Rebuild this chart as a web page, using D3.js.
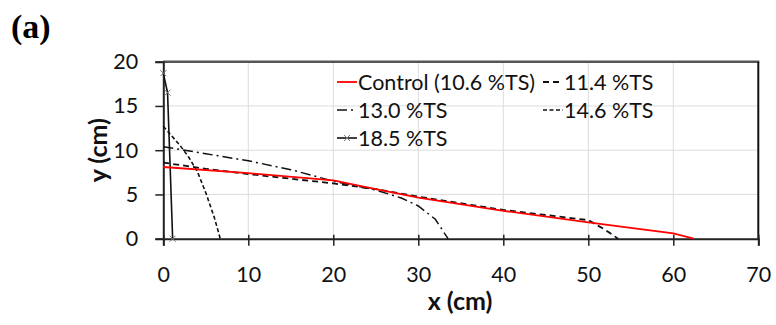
<!DOCTYPE html>
<html><head><meta charset="utf-8">
<script src="https://cdn.jsdelivr.net/npm/d3@7"></script>
<style>body{margin:0;background:#fff}svg{display:block}</style>
</head><body><svg id="c" width="776" height="325"></svg>
<script>
const xTicks = [0,10,20,30,40,50,60,70];
const yTicks = [0,5,10,15,20];
const seriesNames = ["Control (10.6 %TS)","11.4 %TS","13.0 %TS","14.6 %TS","18.5 %TS"];
const control = [[0,8.1],[10,7.4],[20,6.6],[25,5.6],[30,4.65],[40,3.15],[50,1.85],[60,0.6],[62.4,0]];
const ts114 = [[0,8.6],[5,7.9],[10,7.3],[20,6.25],[25,5.6],[30,4.75],[40,3.25],[50,2.1],[51,1.55],[52,1.0],[53.5,0]];
const ts130 = [[0,10.4],[5,9.6],[10,8.8],[15,7.8],[20,6.5],[25,5.5],[28,4.6],[30,3.7],[32,2.2],[33.5,0]];
const ts146 = [[0,12.7],[1,11.6],[2,10.5],[3,9.2],[4,7.6],[5,5.2],[6,2.4],[6.7,0]];
const ts185 = [[0,18.7],[0.5,16.5],[1.1,0]];

const svg = d3.select("#c");
const L=163.3, R=758.3, T=61.7, B=238.7;
const x = d3.scaleLinear().domain([0,70]).range([L,R]);
const y = d3.scaleLinear().domain([0,20]).range([B,T]);
const font = "Lato, 'Open Sans', sans-serif";
const fs = 21.5;

// gridlines
svg.append("g").selectAll("line").data(xTicks.slice(1,-1)).join("line")
  .attr("x1",d=>x(d)).attr("x2",d=>x(d)).attr("y1",T).attr("y2",B)
  .attr("stroke","#dcdcdc").attr("stroke-width",1);
svg.append("g").selectAll("line").data(yTicks.slice(1,-1)).join("line")
  .attr("x1",L).attr("x2",R).attr("y1",d=>y(d)).attr("y2",d=>y(d))
  .attr("stroke","#dcdcdc").attr("stroke-width",1);

// frame top/right
svg.append("line").attr("x1",L).attr("x2",R+1).attr("y1",T).attr("y2",T).attr("stroke","#555").attr("stroke-width",2.5);
svg.append("line").attr("x1",R).attr("x2",R).attr("y1",T).attr("y2",B).attr("stroke","#111").attr("stroke-width",2);

// axes
const xa = svg.append("g").attr("transform",`translate(0,${B})`)
  .call(d3.axisBottom(x).tickValues(xTicks).tickSize(7).tickPadding(21));
const ya = svg.append("g").attr("transform",`translate(${L},0)`)
  .call(d3.axisLeft(y).tickValues(yTicks).tickSize(8).tickPadding(18));
[xa,ya].forEach(g=>{
  g.select(".domain").attr("stroke","#222").attr("stroke-width",2);
  g.selectAll(".tick line").attr("stroke","#222").attr("stroke-width",1.5);
  g.selectAll("text").attr("font-family",font).attr("font-size",fs).attr("fill","#111");
});
xa.selectAll(".tick line").attr("y1",-4);
ya.selectAll(".tick text").attr("x",-25);

const line = d3.line().x(d=>x(d[0])).y(d=>y(d[1]));
const styles = [
  {data:control, color:"#ff0000", dash:null, w:1.8},
  {data:ts114, color:"#111", dash:"6,4", w:1.8},
  {data:ts130, color:"#111", dash:"10,4,2,4", w:1.5},
  {data:ts146, color:"#111", dash:"4,2.5", w:1.6},
  {data:ts185, color:"#111", dash:null, w:1.6}
];
const plot = svg.append("g");
[1,2,3,4,0].forEach(i=>{
  const s=styles[i];
  plot.append("path").datum(s.data).attr("d",line).attr("fill","none")
    .attr("stroke",s.color).attr("stroke-width",s.w).attr("stroke-dasharray",s.dash);
});
plot.selectAll(".mk").data(ts185).join("path").attr("class","mk")
  .attr("transform",d=>`translate(${x(d[0])},${y(d[1])})`)
  .attr("d","M-3,-3L3,3M-3,3L3,-3").attr("stroke","#777").attr("stroke-width",1);

// legend
const leg = [
  {i:0, lx:337, ly:82},
  {i:1, lx:543, ly:82},
  {i:2, lx:337, ly:110},
  {i:3, lx:543, ly:110},
  {i:4, lx:337, ly:138}
];
leg.forEach(o=>{
  const s=styles[o.i];
  svg.append("line").attr("x1",o.lx).attr("x2",o.lx+20).attr("y1",o.ly).attr("y2",o.ly)
    .attr("stroke",s.color).attr("stroke-width",s.w).attr("stroke-dasharray",s.dash);
  if(o.i===4){
    svg.append("path").attr("transform",`translate(${o.lx+10},${o.ly})`)
      .attr("d","M-3,-3L3,3M-3,3L3,-3").attr("stroke","#777").attr("stroke-width",1);
  }
  svg.append("text").attr("x",o.lx+21).attr("y",o.ly).attr("dy","0.35em")
    .attr("font-family",font).attr("font-size",fs).attr("fill","#111").text(seriesNames[o.i]);
});

// axis titles
svg.append("text").attr("x",460).attr("y",310).attr("text-anchor","middle")
  .attr("font-family",font).attr("font-weight","bold").attr("font-size",25).attr("fill","#111").text("x (cm)");
svg.append("text").attr("transform",`translate(107,${(T+B)/2}) rotate(-90)`).attr("text-anchor","middle")
  .attr("font-family",font).attr("font-weight","bold").attr("font-size",25).attr("fill","#111").text("y (cm)");
svg.append("text").attr("x",11).attr("y",38).attr("font-family","'Liberation Serif', 'Times New Roman', serif")
  .attr("font-weight","bold").attr("font-size",34).attr("fill","#000").text("(a)");
</script></body></html>
